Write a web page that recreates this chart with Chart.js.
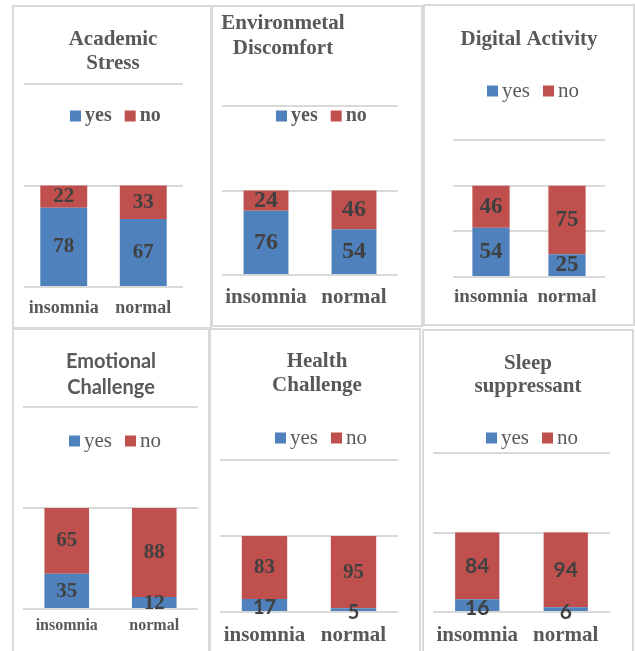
<!DOCTYPE html>
<html>
<head>
<meta charset="utf-8">
<script src="https://cdn.jsdelivr.net/npm/chart.js@4.4.1/dist/chart.umd.min.js"></script>
<style>
  html, body { margin: 0; padding: 0; background: #fff; }
  body { width: 635px; height: 651px; position: relative; overflow: hidden; }
  .panel { position: absolute; box-sizing: border-box; border: 2px solid #d9d9d9; background: #fff; }
  .panel canvas { position: absolute; left: 0; top: 0; }
</style>
</head>
<body>
<script>
// Chart data
const categories = ['insomnia', 'normal'];
const seriesNames = ['yes', 'no'];

const academicYes = [78, 67];
const academicNo = [22, 33];
const environmentalYes = [76, 54];
const environmentalNo = [24, 46];
const digitalYes = [54, 25];
const digitalNo = [46, 75];
const emotionalYes = [35, 12];
const emotionalNo = [65, 88];
const healthYes = [17, 5];
const healthNo = [83, 95];
const sleepYes = [16, 6];
const sleepNo = [84, 94];

const panelTitles = [
    ['Academic', 'Stress'],
    ['Environmetal', 'Discomfort'],
    ['Digital Activity'],
    ['Emotional', 'Challenge'],
    ['Health', 'Challenge'],
    ['Sleep', 'suppressant']
];
const yesSeries = [academicYes, environmentalYes, digitalYes, emotionalYes, healthYes, sleepYes];
const noSeries = [academicNo, environmentalNo, digitalNo, emotionalNo, healthNo, sleepNo];
const axisMax = [200, 200, 150, 200, 200, 200];
const axisStep = [100, 100, 50, 100, 100, 100];

// Styling
const BLUE = '#4f81bd';
const RED = '#c0504d';
const GRID = '#d9d9d9';
const TEXT = '#595959';
const LABEL = '#404040';
const SERIF = '"Liberation Serif", "Times New Roman", serif';
const SANS = 'Lato, "Open Sans", sans-serif';
const X_AXIS_H = 35;

const serifBold = (size) => ({ family: SERIF, weight: 'bold', size });
const serif = (size) => ({ family: SERIF, weight: 'normal', size });
const sansBold = (size) => ({ family: SANS, weight: 'bold', size });

// Panel layout, in page pixels
const panels = [
    { box: [12, 5, 200, 324], area: [24, 84, 183, 287],
      titleX: 113, titleY: [40, 64], titleFont: serifBold(21),
      legendX: 70, legendY: 116, legendFont: serifBold(20),
      tickY: 308, tickFont: serifBold(18), barPct: 0.59,
      labelFonts: [serifBold(21), serifBold(21)], labelDy: [0, 0] },
    { box: [211, 5, 212, 322], area: [222, 106, 398, 275],
      titleX: 283, titleY: [24, 49], titleFont: serifBold(21),
      legendX: 276, legendY: 116, legendFont: serifBold(20),
      tickY: 298, tickFont: serifBold(21), barPct: 0.51,
      labelFonts: [serifBold(24), serifBold(24)], labelDy: [0, 0] },
    { box: [423, 4, 212, 322], area: [453, 140, 605, 277],
      titleX: 529, titleY: [40], titleFont: serifBold(21),
      legendX: 487, legendY: 91, legendFont: serif(21),
      tickY: 297, tickFont: serifBold(19), barPct: 0.49,
      labelFonts: [serifBold(23), serifBold(23)], labelDy: [0, 0] },
    { box: [12, 328, 198, 330], area: [23, 407, 198, 609],
      titleX: 111, titleY: [362, 388], titleFont: sansBold(20),
      legendX: 69, legendY: 441, legendFont: serif(21),
      tickY: 626, tickFont: serifBold(16), barPct: 0.51,
      labelFonts: [serifBold(21), serifBold(21)], labelDy: [1, 0] },
    { box: [209, 328, 212, 330], area: [220, 460, 398, 612],
      titleX: 317, titleY: [362, 386], titleFont: serifBold(21),
      legendX: 275, legendY: 438, legendFont: serif(21),
      tickY: 636, tickFont: serifBold(21), barPct: 0.51,
      labelFonts: [sansBold(20), serifBold(21)], labelDy: [3, 0] },
    { box: [422, 329, 212, 330], area: [433, 453, 610, 612],
      titleX: 528, titleY: [364, 387], titleFont: serifBold(21),
      legendX: 486, legendY: 438, legendFont: serif(21),
      tickY: 636, tickFont: serifBold(21), barPct: 0.5,
      labelFonts: [sansBold(21), sansBold(21)], labelDy: [3, 0] }
];

const fontString = (f) => `${f.weight} ${f.size}px ${f.family}`;

// Title and legend drawn inside the panel, Excel style
const panelText = {
    id: 'panelText',
    afterDraw(chart, args, opts) {
        const ctx = chart.ctx;
        ctx.save();
        ctx.fillStyle = TEXT;
        ctx.font = fontString(opts.titleFont);
        ctx.textAlign = 'center';
        ctx.textBaseline = 'middle';
        opts.title.forEach((line, k) => ctx.fillText(line, opts.titleX, opts.titleY[k]));

        ctx.font = fontString(opts.legendFont);
        ctx.textAlign = 'left';
        let x = opts.legendX;
        chart.data.datasets.forEach(ds => {
            ctx.fillStyle = ds.backgroundColor;
            ctx.fillRect(x, opts.legendY - 5.5, 11, 11);
            x += 15;
            ctx.fillStyle = TEXT;
            ctx.fillText(ds.label, x, opts.legendY);
            x += ctx.measureText(ds.label).width + 13;
        });
        ctx.restore();
    }
};

// Values printed in the middle of each bar segment
const segmentLabels = {
    id: 'segmentLabels',
    afterDatasetsDraw(chart, args, opts) {
        const ctx = chart.ctx;
        ctx.save();
        ctx.fillStyle = LABEL;
        ctx.textAlign = 'center';
        ctx.textBaseline = 'middle';
        chart.data.datasets.forEach((ds, di) => {
            ctx.font = fontString(opts.fonts[di]);
            chart.getDatasetMeta(di).data.forEach((bar, j) => {
                const { x, y, base } = bar.getProps(['x', 'y', 'base'], true);
                ctx.fillText(String(ds.data[j]), x, (y + base) / 2 + opts.dy[di]);
            });
        });
        ctx.restore();
    }
};

function buildPanel(i) {
    const p = panels[i];
    const [bl, bt, bw, bh] = p.box;
    const ox = bl + 2, oy = bt + 2;
    const cw = bw - 4, ch = bh - 4;
    const [al, at, ar, ab] = p.area;

    const div = document.createElement('div');
    div.className = 'panel';
    div.style.left = bl + 'px';
    div.style.top = bt + 'px';
    div.style.width = bw + 'px';
    div.style.height = bh + 'px';
    const canvas = document.createElement('canvas');
    canvas.width = cw;
    canvas.height = ch;
    div.appendChild(canvas);
    document.body.appendChild(div);

    return new Chart(canvas.getContext('2d'), {
        type: 'bar',
        data: {
            labels: categories,
            datasets: [
                { label: seriesNames[0], data: yesSeries[i], backgroundColor: BLUE },
                { label: seriesNames[1], data: noSeries[i], backgroundColor: RED }
            ]
        },
        options: {
            responsive: false,
            animation: false,
            datasets: {
                bar: { categoryPercentage: 1, barPercentage: p.barPct, borderWidth: 0 }
            },
            layout: {
                padding: {
                    left: al - ox,
                    right: ox + cw - ar,
                    top: at - oy,
                    bottom: ch - (ab - oy) - X_AXIS_H
                }
            },
            scales: {
                x: {
                    stacked: true,
                    grid: { display: false, drawTicks: false },
                    border: { display: false },
                    ticks: {
                        color: TEXT,
                        font: p.tickFont,
                        autoSkip: false,
                        maxRotation: 0,
                        minRotation: 0,
                        padding: p.tickY - ab - p.tickFont.size * 0.6
                    },
                    afterFit(scale) {
                        scale.height = X_AXIS_H;
                        scale.paddingLeft = 0;
                        scale.paddingRight = 0;
                    }
                },
                y: {
                    stacked: true,
                    min: 0,
                    max: axisMax[i],
                    grid: { color: GRID, lineWidth: 2, drawTicks: false },
                    border: { display: false },
                    ticks: { display: false, stepSize: axisStep[i] }
                }
            },
            plugins: {
                legend: { display: false },
                title: { display: false },
                tooltip: { enabled: false },
                panelText: {
                    title: panelTitles[i],
                    titleX: p.titleX - ox,
                    titleY: p.titleY.map(v => v - oy),
                    titleFont: p.titleFont,
                    legendX: p.legendX - ox,
                    legendY: p.legendY - oy,
                    legendFont: p.legendFont
                },
                segmentLabels: { fonts: p.labelFonts, dy: p.labelDy }
            }
        },
        plugins: [panelText, segmentLabels]
    });
}

panels.forEach((p, i) => buildPanel(i));
</script>
</body>
</html>
